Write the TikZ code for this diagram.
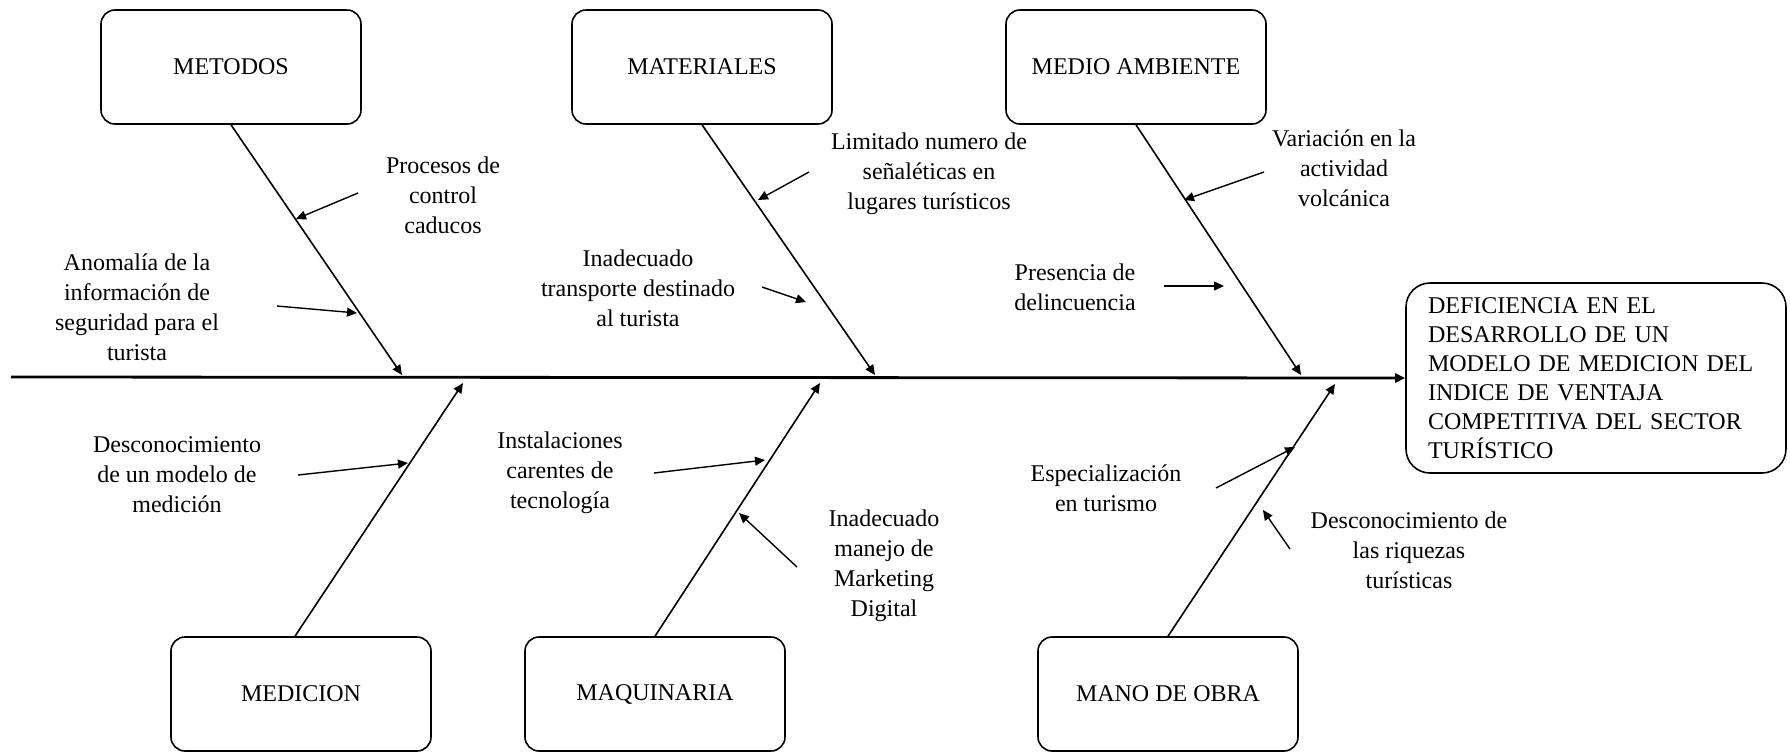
\documentclass[tikz,border=0pt]{standalone}
\usepackage{fontspec}
\setmainfont{Liberation Serif}
\usetikzlibrary{arrows.meta}

\begin{document}
\begin{tikzpicture}[x=0.5pt,y=0.5pt,yscale=-1,
	>={Triangle[length=5pt,width=4.5pt]},
	causa/.style={draw,rounded corners=7pt,line width=0.8pt,minimum width=130pt,minimum height=57pt,font=\fontsize{12}{14.5}\selectfont},
	efecto/.style={draw,rounded corners=12pt,line width=0.8pt,text width=168pt,inner xsep=11pt,minimum height=95pt,align=left,font=\fontsize{12}{14.5}\selectfont},
	texto/.style={align=center,inner sep=0.75pt,font=\fontsize{12}{15}\selectfont},
	rama/.style={line width=0.8pt,->},
	flecha/.style={line width=0.7pt,->}]
	\useasboundingbox (0,0) rectangle (1790,752);

	% Cajas
	\node[causa] (metodos) at (231,67) {METODOS};
	\node[causa] (materiales) at (702,67) {MATERIALES};
	\node[causa] (medio) at (1136,67) {MEDIO AMBIENTE};
	\node[causa] (medicion) at (301,694) {MEDICION};
	\node[causa] (maquinaria) at (655,694) {MAQUINARIA};
	\node[causa] (mano) at (1168,694) {MANO DE OBRA};
	\node[efecto] (efecto) at (1596,378) {DEFICIENCIA EN EL\\DESARROLLO DE UN\\MODELO DE MEDICION DEL\\INDICE DE VENTAJA\\COMPETITIVA DEL SECTOR\\TURÍSTICO};

	% Espina central
	\coordinate (s0) at (11,377);
	\draw[line width=1.4pt,->] (s0) -- (efecto.west);

	% Ramas
	\coordinate (t1) at (402,375);
	\coordinate (t2) at (875,375);
	\coordinate (t3) at (1301,375);
	\coordinate (b1) at (463,383);
	\coordinate (b2) at (820,383);
	\coordinate (b3) at (1335,384);
	\draw[rama] (metodos.south) -- (t1);
	\draw[rama] (materiales.south) -- (t2);
	\draw[rama] (medio.south) -- (t3);
	\draw[rama] ([xshift=-3pt]medicion.north) -- (b1);
	\draw[rama] (maquinaria.north) -- (b2);
	\draw[rama] (mano.north) -- (b3);

	% Text Node
	\node[texto] (procesos) at (443,195) {Procesos de\\control\\caducos};
	% Text Node
	\node[texto] (anomalia) at (137,307) {Anomalía de la\\información de\\seguridad para el\\turista};
	% Text Node
	\node[texto] (limitado) at (929,174) {Limitado numero de\\señaléticas en\\lugares turísticos};
	% Text Node
	\node[texto] (transporte) at (638,288) {Inadecuado\\transporte destinado\\al turista};
	% Text Node
	\node[texto] (presencia) at (1075,287) {Presencia de\\delincuencia};
	% Text Node
	\node[texto] (variacion) at (1344,168) {Variación en la\\actividad\\volcánica};
	% Text Node
	\node[texto] (modelo) at (177,475) {Desconocimiento\\de un modelo de\\medición};
	% Text Node
	\node[texto] (instalaciones) at (560,473) {Instalaciones\\carentes de\\tecnología};
	% Text Node
	\node[texto] (marketing) at (884,566) {Inadecuado\\manejo de\\Marketing\\Digital};
	% Text Node
	\node[texto] (especial) at (1106,488) {Especialización\\en turismo};
	% Text Node
	\node[texto] (riquezas) at (1409,550) {Desconocimiento de\\las riquezas\\turísticas};

	% Flechas de las causas
	\coordinate (p1) at (358,193);  \coordinate (q1) at (296,219);
	\coordinate (p2) at (277,306);  \coordinate (q2) at (357,313);
	\coordinate (p3) at (809,172);  \coordinate (q3) at (758,200);
	\coordinate (p4) at (762,287);  \coordinate (q4) at (806,302);
	\coordinate (p5) at (1164,286); \coordinate (q5) at (1224,286);
	\coordinate (p6) at (1264,172); \coordinate (q6) at (1184,200);
	\coordinate (p7) at (298,475);  \coordinate (q7) at (408,463);
	\coordinate (p8) at (654,473);  \coordinate (q8) at (765,460);
	\coordinate (p9) at (797,567);  \coordinate (q9) at (739,513);
	\coordinate (p10) at (1216,488); \coordinate (q10) at (1295,447);
	\coordinate (p11) at (1290,549); \coordinate (q11) at (1263,510);
	\foreach \i in {1,...,11}
		\draw[flecha] (p\i) -- (q\i);

\end{tikzpicture}
\end{document}
